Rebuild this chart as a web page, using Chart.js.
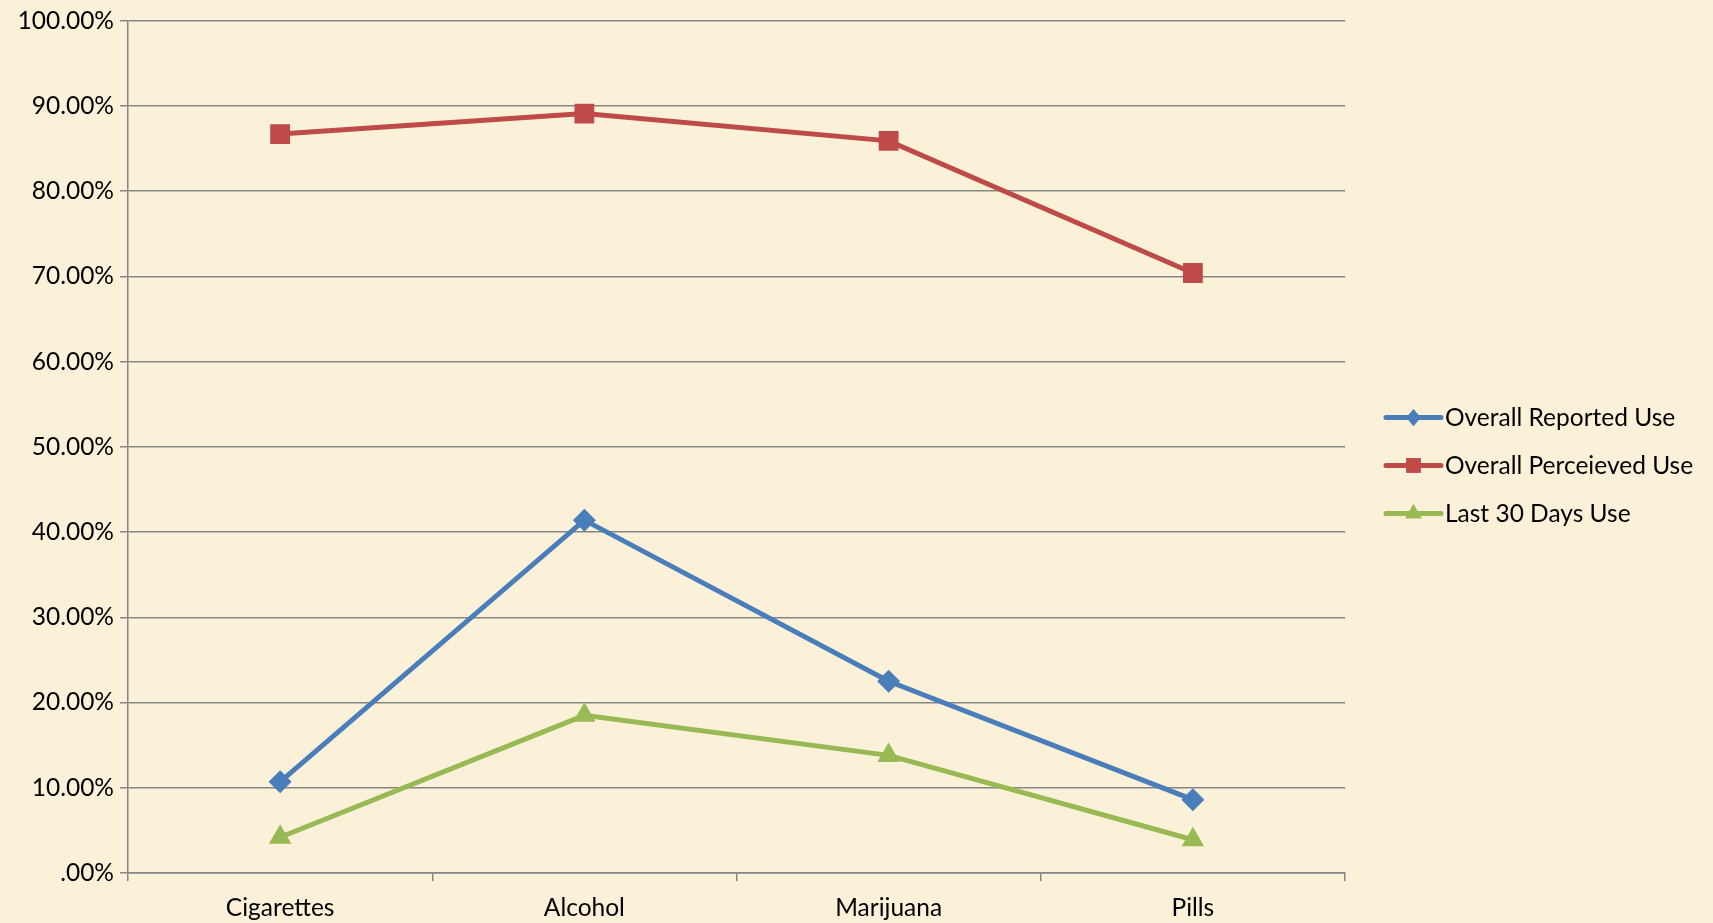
<!DOCTYPE html>
<html>
<head>
<meta charset="utf-8">
<script src="https://cdn.jsdelivr.net/npm/chart.js@4/dist/chart.umd.min.js"></script>
<style>
  html, body { margin: 0; padding: 0; background: #FBF1D8; }
  #wrap { position: relative; width: 1713px; height: 923px; }
</style>
</head>
<body>
<div id="wrap"><canvas id="c" width="1713" height="923"></canvas></div>
<script>
const categories = ["Cigarettes", "Alcohol", "Marijuana", "Pills"];
const seriesNames = ["Overall Reported Use", "Overall Perceieved Use", "Last 30 Days Use"];
const reportedUse = [0.107, 0.414, 0.225, 0.086];
const perceivedUse = [0.867, 0.891, 0.859, 0.704];
const last30DaysUse = [0.042, 0.185, 0.138, 0.039];
const yTicks = [0, 0.1, 0.2, 0.3, 0.4, 0.5, 0.6, 0.7, 0.8, 0.9, 1.0];

const FONT = "Lato, 'Open Sans', sans-serif";
const FONT_SIZE = 24.5;
const styles = [
  { color: "#4A7EBB", pointStyle: "rectRot", radius: 11.5 },
  { color: "#BE4B48", pointStyle: "rect", radius: 14 },
  { color: "#98B954", pointStyle: "triangle", radius: 13 }
];
const seriesData = [reportedUse, perceivedUse, last30DaysUse];

const bgPlugin = {
  id: "bg",
  beforeDraw(chart) {
    const ctx = chart.ctx;
    ctx.save();
    ctx.fillStyle = "#FBF1D8";
    ctx.fillRect(0, 0, chart.width, chart.height);
    ctx.restore();
  }
};

function drawMarker(ctx, style, x, y) {
  ctx.save();
  ctx.fillStyle = style.color;
  ctx.beginPath();
  const r = style.radius;
  if (style.pointStyle === "rect") {
    const s = Math.SQRT1_2 * r;
    ctx.rect(x - s, y - s, 2 * s, 2 * s);
  } else if (style.pointStyle === "rectRot") {
    ctx.moveTo(x, y - r); ctx.lineTo(x + r * 0.85, y); ctx.lineTo(x, y + r); ctx.lineTo(x - r * 0.85, y);
    ctx.closePath();
  } else {
    let rad = 0;
    ctx.moveTo(x + Math.sin(rad) * r, y - Math.cos(rad) * r);
    rad += 2 * Math.PI / 3;
    ctx.lineTo(x + Math.sin(rad) * r, y - Math.cos(rad) * r);
    rad += 2 * Math.PI / 3;
    ctx.lineTo(x + Math.sin(rad) * r, y - Math.cos(rad) * r);
    ctx.closePath();
  }
  ctx.fill();
  ctx.restore();
}

const legendPlugin = {
  id: "customLegend",
  afterDraw(chart) {
    const ctx = chart.ctx;
    const area = chart.chartArea;
    const x0 = area.right + 41;
    const lineLen = 55;
    const rowGap = 48;
    const midY = chart.height / 2 + 4;
    ctx.save();
    ctx.font = FONT_SIZE + "px " + FONT;
    ctx.textBaseline = "middle";
    ctx.textAlign = "left";
    chart.data.datasets.forEach((ds, i) => {
      const y = midY + (i - 1) * rowGap;
      const st = styles[i];
      ctx.strokeStyle = st.color;
      ctx.lineWidth = 5;
      ctx.lineCap = "round";
      ctx.beginPath();
      ctx.moveTo(x0, y);
      ctx.lineTo(x0 + lineLen, y);
      ctx.stroke();
      drawMarker(ctx, { color: st.color, pointStyle: st.pointStyle, radius: st.radius * 0.75 }, x0 + lineLen / 2, y);
      ctx.fillStyle = "#000";
      ctx.fillText(ds.label, x0 + lineLen + 4, y + 1);
    });
    ctx.restore();
  }
};

new Chart(document.getElementById("c"), {
  type: "line",
  data: {
    labels: categories,
    datasets: seriesNames.map((name, i) => ({
      label: name,
      data: seriesData[i],
      borderColor: styles[i].color,
      backgroundColor: styles[i].color,
      borderWidth: 5,
      pointStyle: styles[i].pointStyle,
      pointRadius: styles[i].radius,
      pointBorderWidth: 0,
      pointBackgroundColor: styles[i].color,
      tension: 0,
      fill: false
    }))
  },
  options: {
    responsive: false,
    animation: false,
    devicePixelRatio: 1,
    layout: { padding: { left: 0, right: 368, top: 19, bottom: 0 } },
    plugins: { legend: { display: false }, tooltip: { enabled: false } },
    scales: {
      x: {
        offset: true,
        grid: { offset: true, drawOnChartArea: false, drawTicks: true, tickLength: 8, color: "#868686", lineWidth: 1.5 },
        border: { color: "#868686", width: 1.5 },
        ticks: { color: "#000", font: { family: FONT, size: FONT_SIZE }, padding: 12 },
        afterFit(scale) { scale.height = 50; }
      },
      y: {
        min: 0, max: 1,
        afterBuildTicks(scale) { scale.ticks = yTicks.map(v => ({ value: v })); },
        grid: { color: "#868686", lineWidth: 1.5, drawTicks: true, tickLength: 8 },
        border: { color: "#868686", width: 1.5 },
        ticks: {
          color: "#000",
          font: { family: FONT, size: FONT_SIZE },
          padding: 6,
          callback(v) {
            const s = (v * 100).toFixed(2) + "%";
            return s.startsWith("0.") ? s.slice(1) : s;
          }
        },
        afterFit(scale) { scale.width = 128; }
      }
    }
  },
  plugins: [bgPlugin, legendPlugin]
});
</script>
</body>
</html>
